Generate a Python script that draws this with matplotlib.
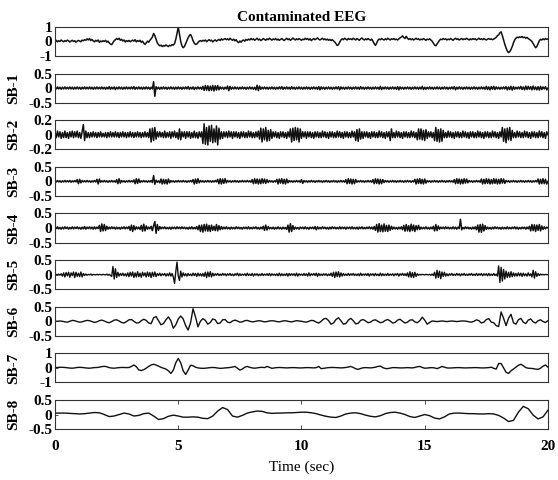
import numpy as np
import matplotlib.pyplot as plt

plt.rcParams['font.family'] = ['Liberation Serif', 'DejaVu Serif']
plt.rcParams['axes.unicode_minus'] = False

# signal values in hundredths, sampled evenly over 0-20 s
eeg = [
    2, 8, -3, 5, 0, 10, 3, -2, 6, 1, 9, 4, -4, 3, 8, 0, 5, -5, 2, 7,
    3, -2, 9, 5, 12, 8, 18, 10, 20, 6, 14, 4, -3, 8, 2, 10, -6, 3, -2, 5,
    0, 8, -5, 2, -10, -18, -22, -8, 5, 12, 20, 14, 22, 8, 15, 3, 10, -4, 6, 0,
    7, -2, 4, 9, 2, 12, -3, 6, 0, 8, -6, 2, -12, -20, -10, 2, -5, 8, 18, 30,
    55, 40, 15, -10, -22, -30, -25, -35, -28, -32, -24, -30, -35, -26, -30, -22, -25, -15, 15, 55,
    100, 50, 0, -30, -43, -35, -15, 5, 25, 40, 48, 30, 5, -12, -20, -18, -8, 2, 6, 0,
    8, 3, 10, -2, 6, 12, 4, 9, -3, 5, 11, 2, 8, 14, 6, 18, 10, 15, 20, 12,
    18, 10, 22, 14, 8, 16, 4, 12, -2, -8, 3, -5, 6, 10, 2, 14, 8, 16, 10, 20,
    12, 18, 8, 15, 22, 10, 16, 6, 12, 20, 14, 8, 18, 12, 22, 15, 9, 17, 12, 20,
    10, 16, 8, 14, 20, 12, 6, 15, 22, 12, 18, 8, 14, 24, 16, 10, 18, 12, 20, 14,
    8, 16, 12, 22, 14, 20, 10, 18, 6, 14, 20, 12, 18, 24, 15, 10, 16, 22, 12, 18,
    10, 16, 8, 14, 6, 12, 4, -4, -15, -28, -22, -5, 10, 18, 12, 22, 16, 10, 20, 14,
    18, 12, 22, 16, 10, 20, 14, 8, 18, 24, 15, 10, 18, 12, 20, 14, 8, 16, 2, -15,
    -27, -12, 8, 16, 12, 20, 14, 10, 18, 12, 22, 16, 10, 18, 14, 20, 12, 16, 10, 18,
    24, 30, 38, 28, 20, 35, 22, 14, 20, 12, 18, 10, 16, 22, 14, 18, 10, 16, 12, 20,
    14, 8, 16, 12, 18, 10, 2, -12, -25, -30, -18, -5, 8, 16, 12, 20, 14, 18, 10, 16,
    12, 20, 14, 8, 16, 22, 14, 18, 10, 16, 20, 12, 18, 14, 22, 16, 10, 18, 12, 20,
    14, 18, 10, 16, 22, 14, 18, 12, 20, 14, 10, 16, 20, 14, 18, 12, 16, 22, 28, 40,
    45, 60, 66, 40, 10, -20, -45, -65, -77, -70, -55, -35, -10, 10, 22, 30, 25, 32, 28, 34,
    26, 30, 22, 28, 20, 14, 8, 0, -15, -30, -43, -35, -15, 5, 15, 10, 18, 12, 20, 14,
    18]

sb1 = [
    3, -3, 4, -3, 3, -4, 3, -3, 4, -3, 3, -3, 4, -3, 3, -4, 3, -3, 4, -3,
    3, -4, 3, -3, 4, -3, 3, -3, 4, -3, 3, -4, 3, -3, 4, -3, 3, -3, 4, -3,
    3, -4, 3, -3, 5, -4, 3, -3, 4, -5, 3, -3, 4, -3, 3, -4, 3, -3, 4, -3,
    3, -3, 4, -3, 5, -4, 3, -3, 4, -3, 3, -4, 3, -3, 4, -3, 3, -4, 3, -3,
    22, -28, 5, -3, 3, -4, 3, -3, 4, -3, 3, -4, 3, -3, 4, -3, 3, -4, 3, -3,
    4, -3, 3, -4, 3, -3, 4, -3, 5, -4, 3, -3, 4, -5, 3, -3, 4, -3, 3, -4,
    6, -8, 9, -7, 8, -9, 7, -8, 9, -10, 8, -7, 9, -6, 4, -3, 3, -4, 3, -3,
    7, -9, 6, -4, 3, -3, 4, -3, 3, -4, 3, -3, 4, -3, 3, -4, 3, -3, 4, -3,
    3, -4, 3, -6, 10, -9, 7, -4, 3, -3, 4, -3, 3, -4, 3, -3, 4, -3, 3, -4,
    3, -3, 4, -3, 5, -4, 3, -3, 4, -3, 3, -4, 5, -3, 3, -4, 3, -3, 4, -3,
    3, -4, 3, -3, 4, -3, 3, -4, 3, -3, 4, -3, 3, -4, 5, -6, 4, -3, 3, -4,
    3, -3, 4, -3, 3, -4, 3, -3, 4, -3, 5, -6, 4, -3, 3, -4, 3, -3, 4, -3,
    3, -4, 3, -3, 4, -3, 3, -4, 5, -3, 3, -4, 3, -3, 4, -3, 3, -4, 3, -3,
    4, -3, 3, -4, 6, -5, 3, -3, 4, -3, 3, -4, 3, -3, 4, -3, 3, -4, 5, -6,
    4, -3, 3, -4, 3, -3, 4, -3, 3, -4, 3, -3, 4, -3, 3, -4, 3, -3, 6, -5,
    3, -4, 3, -3, 4, -3, 3, -4, 3, -3, 4, -3, 3, -4, 3, -3, 4, -3, 3, -4,
    3, -3, 4, -3, 5, -6, 3, -3, 4, -3, 3, -4, 3, -3, 4, -3, 3, -4, 3, -3,
    4, -3, 3, -4, 3, -3, 4, -3, 3, -4, 6, -5, 4, -6, 5, -4, 6, -5, 4, -3,
    3, -4, 3, -3, 4, -3, 5, -6, 4, -5, 6, -7, 5, -4, 3, -3, 4, -3, 6, -5,
    4, -6, 7, -5, 6, -4, 5, -6, 7, -5, 4, -6, 5, -7, 6, -5, 4, -3, 5, -6,
    0]

sb2 = [
    4, -4, 5, -3, 4, -5, 3, -4, 5, -4, 3, -5, 4, -3, 5, -4, 4, -3, 5, -4,
    3, -5, 4, 14, -8, 5, -4, 3, -4, 3, -3, 4, -3, 3, -4, 3, -3, 4, -3, 2,
    -3, 3, -4, 3, -3, 4, -3, 3, -3, 4, -3, 3, -4, 3, -3, 4, -3, 3, -4, 3,
    -3, 4, -3, 3, -4, 3, -3, 4, -3, 3, -4, 3, -3, 4, -3, 3, -4, 8, -10, 9,
    -8, 10, -6, 4, -3, 4, -3, 3, -4, 5, -4, 3, -3, 4, -5, 4, -3, 5, -4, 3,
    -6, 8, -7, 4, -3, 4, -5, 4, -3, 4, -5, 3, -4, 5, -4, 3, -5, 4, -3, 4,
    -12, 15, -13, 10, -14, 12, -9, 13, -11, 8, -10, 12, -14, 9, -6, 4, -5, 4, -3, 4,
    -4, 5, -3, 4, -5, 4, -3, 4, -4, 3, -5, 4, -3, 4, -4, 3, -4, 5, -3, 4,
    -4, 3, -4, 4, -3, 5, -6, 9, -10, 8, -7, 10, -9, 6, -8, 7, -5, 4, -3, 4,
    -4, 3, -5, 4, -3, 4, -4, 3, -5, 4, -3, 8, -10, 9, -8, 10, -7, 9, -10, 8,
    -5, 4, -3, 4, -5, 4, -3, 4, -4, 3, -5, 4, -3, 4, -4, 3, -4, 5, -3, 4,
    -4, 3, -5, 4, -3, 4, -4, 3, -4, 5, -3, 4, -4, 3, -5, 4, -3, 4, -4, 3,
    -4, 5, -3, 4, -8, 7, -9, 8, -6, 4, -5, 4, -3, 4, -4, 3, -5, 4, -3, 4,
    -4, 3, -4, 5, -3, 4, -4, 3, -5, 4, -3, 4, -8, 8, -4, 3, -4, 5, -3, 4,
    -4, 3, -5, 4, -3, 4, -4, 3, -4, 5, -3, 4, -4, 3, -7, 8, -6, 8, -7, 6,
    -8, 7, -5, 4, -3, 4, -4, 3, -8, 10, -9, 7, -10, 8, -9, 6, -4, 3, -4, 5,
    -3, 4, -4, 3, -5, 4, -3, 4, -4, 3, -4, 5, -3, 4, -4, 3, -5, 4, -3, 4,
    -4, 3, -4, 5, -3, 4, -4, 3, -5, 4, -3, 4, -4, 3, -4, 5, -3, 4, -4, 3,
    -5, 4, -3, 10, -9, 8, -11, 9, -7, 10, -8, 6, -4, 3, -4, 5, -3, 4, -4, 3,
    -4, 5, -3, 4, -4, 3, -5, 4, -3, 4, -4, 3, -4, 5, -3, 4, -4, 3, -5, 4,
    0]

sb3 = [
    2, -2, 3, -2, 2, -3, 2, -2, 3, -2, 2, -2, 3, -3, 2, -2, 3, -2, 6, -8,
    7, -5, 3, -2, 2, -2, 3, -2, 2, -3, 2, -2, 3, -2, 7, -9, 8, -3, 2, -2,
    3, -2, 2, -3, 2, -2, 3, -2, 2, -3, 6, -8, 9, -6, 3, -2, 2, -3, 2, -2,
    3, -2, 2, -2, 5, -8, 9, -7, 8, -4, 2, -2, 3, -2, 2, -3, 2, -2, 3, -4,
    20, -10, 4, -3, 2, -5, 8, -9, 7, -8, 6, -9, 8, -5, 3, -2, 2, -3, 2, -2,
    3, -2, 2, -2, 3, -2, 2, -3, 2, -2, 3, -2, 6, -9, 8, -7, 9, -5, 3, -2,
    2, -3, 2, -2, 3, -2, 2, -3, 2, -2, 3, -2, 7, -8, 9, -9, 8, -7, 9, -5,
    3, -2, 2, -3, 2, -2, 3, -2, 2, -3, 2, -2, 3, -2, 2, -2, 3, -2, 2, -3,
    6, -8, 9, -7, 8, -9, 7, -8, 9, -6, 8, -7, 6, -4, 3, -2, 2, -3, 2, -2,
    7, -9, 8, -6, 9, -8, 7, -9, 8, -5, 3, -2, 2, -3, 2, -2, 3, -2, 2, -3,
    6, -7, 3, -2, 2, -3, 2, -2, 3, -2, 2, -3, 2, -2, 3, -2, 2, -3, 2, -2,
    3, -2, 2, -3, 2, -2, 3, -2, 2, -3, 2, -2, 3, -2, 2, -3, 6, -8, 9, -7,
    8, -9, 7, -8, 6, -3, 2, -2, 3, -2, 2, -3, 2, -2, 3, -2, 2, -3, 6, -8,
    9, -7, 8, -9, 7, -8, 6, -4, 3, -2, 2, -3, 2, -2, 3, -2, 2, -3, 2, -2,
    3, -2, 2, -3, 2, -2, 3, -2, 2, -3, 2, -2, 7, -9, 8, -7, 9, -8, 7, -9,
    8, -6, 3, -2, 2, -3, 2, -2, 3, -2, 2, -3, 2, -2, 3, -2, 2, -3, 2, -2,
    3, -2, 2, -3, 6, -8, 9, -7, 8, -9, 7, -8, 9, -6, 8, -5, 3, -2, 2, -3,
    2, -2, 3, -2, 2, -3, 8, -9, 7, -8, 9, -7, 8, -9, 6, -8, 9, -7, 8, -9,
    7, -8, 9, -6, 8, -7, 3, -2, 2, -3, 2, -2, 3, -2, 2, -3, 2, -2, 3, -2,
    2, -3, 2, -2, 3, -2, 2, -3, 2, -2, 3, -2, 8, -9, 7, -8, 9, -8, 7, -9,
    0]

sb4 = [
    3, -2, 4, -3, 2, -4, 3, -3, 4, -2, 3, -4, 2, -3, 4, -3, 3, -2, 4, -3,
    2, -4, 3, -3, 5, -4, 3, -2, 4, -3, 3, -4, 4, -3, 3, -2, 9, -12, 14, -10,
    12, -9, 6, -4, 3, -3, 4, -2, 3, -4, 3, -3, 2, -4, 3, -2, 4, -3, 3, -2,
    5, -8, 10, -12, 8, -6, 4, -3, 3, -5, 9, -11, 13, -10, 7, -4, 3, -3, 6, -9,
    8, 22, -18, 12, -8, 5, -3, 3, -2, 4, -3, 2, -3, 3, -4, 3, -2, 3, -3, 4,
    -2, 3, -3, 4, -2, 3, -3, 2, -4, 3, -3, 4, -3, 2, -3, 5, -6, 9, -12, 10,
    -14, 12, -10, 13, -11, 9, -12, 10, -8, 6, -9, 12, -10, 8, -6, 5, -4, 3, -3, 4,
    -3, 2, -4, 3, -3, 2, -3, 4, -2, 3, -3, 2, -4, 3, -2, 3, -3, 4, -3, 2,
    -3, 3, -2, 4, -3, 2, -4, 3, -3, 6, -8, 10, -7, 5, -3, 2, -3, 3, -4, 2,
    -3, 4, -3, 2, -4, 3, -3, 2, -5, 10, -14, 15, -12, 8, -5, 3, -3, 2, -4, 3,
    -2, 3, -3, 4, -3, 2, -4, 3, -2, 3, -3, 5, -6, 4, -3, 2, -3, 4, -2, 3,
    -3, 2, -4, 3, -3, 4, -2, 3, -3, 2, -3, 4, -3, 3, -2, 3, -4, 3, -2, 3,
    -3, 4, -3, 2, -3, 3, -4, 3, -2, 4, -3, 2, -3, 3, -2, 4, -3, 3, -4, 5,
    -8, 12, -14, 15, -12, 10, -13, 14, -11, 9, -12, 10, -8, 6, -4, 3, -3, 2, -4, 3,
    -3, 4, -6, 9, -11, 12, -10, 8, -12, 13, -9, 10, -12, 8, -6, 9, -5, 3, -3, 2,
    -3, 4, -3, 2, -4, 3, -3, 6, -10, 12, -9, 7, -4, 3, -2, 3, -3, 4, -2, 3,
    -3, 2, -3, 4, -3, 3, -4, 3, -2, 30, -6, 2, -3, 4, -2, 3, -3, 2, -4, 3,
    -3, 4, -6, 10, -14, 12, -15, 13, -10, 8, -5, 3, -3, 2, -4, 3, -3, 4, -2, 3,
    -3, 2, -4, 3, -3, 2, -3, 4, -3, 2, -3, 3, -2, 4, -3, 3, -4, 2, -3, 3,
    -2, 3, -4, 3, -3, 6, -10, 12, -9, 11, -12, 10, -8, 12, -10, 7, -5, 4, -3, 3,
    0]

sb5 = [
    0, 1, -1, 2, -2, 3, -5, 6, -8, 7, -4, 8, -9, 6, -3, 9, -10, 8, -6, 5,
    -7, 9, -8, 4, -3, 2, -2, 1, -1, 2, -2, 1, 0, -1, 1, -1, 1, 0, -1, 1,
    0, -1, 2, -2, 1, -3, -6, 28, -15, 20, -10, 8, -5, 4, -3, 5, -4, 3, -5, 6,
    -7, 8, -5, 9, -10, 6, -8, 10, -7, 5, -9, 8, -4, 6, -8, 9, -6, 7, -10, 8,
    -6, 9, -7, 4, -3, 5, -4, 3, -2, 4, -5, 3, -4, 6, -5, 4, -8, -30, 10, 43,
    -5, -20, 12, -8, 6, -4, 3, -5, 4, -3, 2, -4, 5, -3, 4, -6, 5, -4, 3, -5,
    4, -6, 8, -10, 9, -7, 10, -8, 5, -4, 3, -2, 4, -3, 2, -3, 4, -2, 3, -4,
    3, -2, 4, -3, 2, -4, 3, -2, 5, -4, 3, -3, 2, -2, 3, -4, 5, -3, 2, -3,
    4, -5, 3, -2, 3, -4, 2, -3, 4, -3, 2, -2, 3, -3, 4, -4, 3, -2, 2, -3,
    3, -4, 5, -4, 3, -3, 2, -3, 4, -5, 4, -3, 3, -2, 3, -4, 5, -5, 3, -2,
    2, -3, 4, -3, 3, -5, 6, -4, 3, -2, 4, -3, 5, -6, 4, -3, 2, -3, 3, -2,
    3, -4, 2, -3, 5, -6, 8, -10, 9, -7, 10, -8, 6, -5, 4, -3, 2, -3, 4, -3,
    3, -2, 4, -3, 2, -3, 3, -4, 5, -3, 2, -2, 3, -3, 4, -5, 3, -2, 3, -4,
    4, -3, 2, -4, 5, -4, 3, -3, 2, -3, 4, -3, 2, -2, 3, -4, 3, -2, 4, -5,
    3, -2, 4, -3, 3, -4, 6, -8, 10, -9, 7, -10, 8, -6, 3, -2, 1, -1, 1, 0,
    -1, 1, 0, -1, 1, -2, 2, -3, 8, -12, 15, -10, 12, -14, 9, -6, 8, -5, 3, -4,
    3, -2, 4, -3, 2, -3, 4, -2, 3, -4, 3, -2, 4, -3, 2, -3, 3, -2, 4, -3,
    2, -3, 4, -3, 3, -2, 4, -4, 3, -2, 3, -4, 4, -3, 2, -3, 4, -3, 2, -5,
    30, -27, 25, -22, 18, -15, 12, -10, 8, -9, 10, -7, 6, -5, 4, -5, 6, -4, 5, -6,
    5, -4, 3, -5, 6, -4, 3, -8, 15, -12, 10, -6, 4, -3, 2, -1, 1, -1, 1, 0,
    0]

sb6 = [
    0, 0, 1, 0, -2, -3, 0, 3, 2, -1, -3, -2, 1, 3, 2, -1, -4, -2, 2, 4,
    1, -3, -5, -1, 4, 5, 1, -4, -6, -1, 5, 6, 0, -6, -5, 2, 7, 3, -6, -8,
    12, 16, 2, -12, -8, 5, 15, 2, -24, -12, 8, 18, 8, -15, -30, -5, 43, 15, -19, 0,
    9, 3, -10, -4, 8, 5, -8, -6, 5, 6, -3, -5, 1, 4, 1, -3, -2, 2, 3, 0,
    -2, -1, 1, 2, 0, -2, -1, 1, 2, 1, -1, -2, 0, 2, 1, -1, -2, 0, 2, 1,
    0, -2, -3, 0, 3, 2, -3, -6, 0, 8, 10, 2, -10, -6, 6, 12, 2, -10, -8, 4,
    10, 2, -9, -7, 3, 6, 1, -5, -3, 3, 5, 0, -5, -3, 3, 6, 1, -6, -4, 4,
    7, 0, -6, -3, 4, 5, -2, -5, 2, 14, 4, -10, -4, 1, 0, -1, 0, 1, 0, -1,
    0, 1, 0, -1, 0, 1, 1, 0, -2, -3, 0, 5, 2, -6, -3, 6, 9, -3, -5, -15,
    -18, 32, 10, -15, 10, 24, -5, -10, 5, 10, -3, -8, 4, 8, -2, -6, 2, 5, -1, -4,
    2]

sb7 = [
    2, 3, 4, 4, 3, 1, -1, -2, 0, 3, 4, 3, 1, -1, -2, 0, 2, 3, 5, 9,
    11, 8, 2, -1, -2, 0, 2, 3, 3, 2, 3, 10, 20, 8, -14, -18, -12, -2, 10, 20,
    25, 20, 12, 4, -2, -8, -20, -38, -15, 35, 65, 35, -20, -45, -15, 18, 15, 5, 0, -2,
    -3, -2, 0, 2, 3, 2, -1, -3, -2, 0, 1, 3, 6, 10, -2, -15, -8, 5, 10, 4,
    0, -2, 0, 3, 4, 2, 10, 4, -3, 0, 2, 3, 2, 1, 0, 1, 2, 2, 1, 0,
    0, 1, 2, 2, 1, 0, 2, 10, -5, -3, 0, 2, 3, 3, 2, 1, 0, 1, 3, 6,
    10, 3, -6, -10, -4, 1, 2, 1, 0, 2, 5, 10, 12, 2, -4, -5, -1, 2, 2, 1,
    0, 0, 1, 2, 1, 0, 3, 8, 10, 3, -2, -1, 1, 2, 0, -5, 2, 10, 5, 0,
    -1, 0, 1, 2, 2, 1, 0, 0, 1, 1, 2, 2, 1, 0, 0, 1, 2, 5, -3, -8,
    30, 30, 0, -30, -38, -20, -8, 5, 18, 25, 15, 2, -2, -3, -5, -8, -10, -2, 12, 20,
    5]

sb8 = [
    5, 5, 5, 4, 3, 2, 3, 5, 7, 6, 0, -7, -5, 0, 5, 2, -5, -3, 3, 5,
    -5, -17, -14, -6, -2, -5, -9, -9, -8, -9, -13, -14, -5, 12, 24, 17, -5, -9, -3, 5,
    9, 12, 11, 6, 4, 5, 5, 6, 6, 7, 8, 8, 6, 3, -2, -6, -9, -10, -5, 2,
    5, 6, 3, -2, -6, -8, -4, 3, 7, 8, 5, 0, -7, -10, -5, 0, -4, -12, -15, -8,
    2, 5, 5, 4, 3, 3, 2, 2, 3, 2, -3, -12, -24, -20, 8, 28, 20, -2, -15, -8,
    15]

traces = [eeg, sb1, sb2, sb3, sb4, sb5, sb6, sb7, sb8]
names = ['', 'SB-1', 'SB-2', 'SB-3', 'SB-4', 'SB-5', 'SB-6', 'SB-7', 'SB-8']
limits = [1, 0.5, 0.2, 0.5, 0.5, 0.5, 0.5, 1, 0.5]
widths = [1.1, 1.1, 1.1, 1.1, 1.1, 1.0, 1.0, 1.0, 1.0]
xticks = [0, 5, 10, 15, 20]

frame = '#333333'
fig, axes = plt.subplots(9, 1, figsize=(5.58, 4.8), dpi=100, sharex=True)
fig.subplots_adjust(left=0.0986, right=0.982, top=0.944, bottom=0.106, hspace=0.6)

for ax, vals, name, lim, lw in zip(axes, traces, names, limits, widths):
    y = np.array(vals) / 100
    t = np.linspace(0, 20, len(y))
    ax.plot(t, y, color='#111111', lw=lw)
    ax.set_xlim(0, 20)
    ax.set_ylim(-lim, lim)
    ax.set_yticks([-lim, 0, lim])
    ax.set_yticklabels(['%g' % v for v in (-lim, 0, lim)])
    for sp in ax.spines.values():
        sp.set_color(frame)
        sp.set_linewidth(0.8)
    ax.tick_params(axis='y', direction='in', length=2, width=0.6, color=frame,
                   pad=2, labelsize=11)
    ax.tick_params(axis='x', bottom=False, labelbottom=False)
    for lab in ax.get_yticklabels():
        lab.set_fontweight('bold')
    if name:
        ax.set_ylabel(name, fontsize=11, fontweight='bold')
        ax.yaxis.set_label_coords(-0.07, 0.5)

axes[0].set_title('Contaminated EEG', fontsize=11, fontweight='bold', pad=4)

last = axes[-1]
last.set_xticks(xticks)
last.tick_params(axis='x', bottom=True, top=True, labelbottom=True, direction='in',
                 length=3, width=0.6, color=frame, pad=8, labelsize=11)
for lab in last.get_xticklabels():
    lab.set_fontweight('bold')
last.set_xlabel('Time (sec)', fontsize=11, labelpad=5)

fig.savefig('out.png', dpi=100)
